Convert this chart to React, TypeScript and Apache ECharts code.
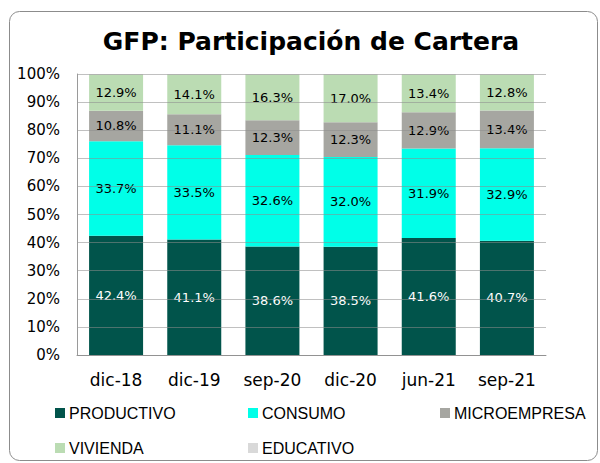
import React, { useEffect, useRef } from "react";
import * as echarts from "echarts";

const categories = ["dic-18", "dic-19", "sep-20", "dic-20", "jun-21", "sep-21"];
const productivo = [42.4, 41.1, 38.6, 38.5, 41.6, 40.7];
const consumo = [33.7, 33.5, 32.6, 32.0, 31.9, 32.9];
const microempresa = [10.8, 11.1, 12.3, 12.3, 12.9, 13.4];
const vivienda = [12.9, 14.1, 16.3, 17.0, 13.4, 12.8];
const educativo = [0.2, 0.2, 0.2, 0.2, 0.2, 0.2];
const yTicks = [0, 10, 20, 30, 40, 50, 60, 70, 80, 90, 100];
const seriesNames = ["PRODUCTIVO", "CONSUMO", "MICROEMPRESA", "VIVIENDA", "EDUCATIVO"];

const titleText = "GFP: Participación de Cartera";

export default function App() {
  const ref = useRef<HTMLDivElement>(null);
  useEffect(() => {
    document.body.style.margin = "0";
    const chart = echarts.init(ref.current!, null, { renderer: "svg" });
    const labelFont = "'DejaVu Sans', sans-serif";
    const legendFont = "'Liberation Sans', sans-serif";
    const mk = (name: string, data: number[], color: string, labelColor: string, showLabel: boolean) => ({
      name,
      type: "bar",
      stack: "total",
      barWidth: 54,
      data,
      itemStyle: { color },
      label: {
        show: showLabel,
        position: "inside",
        formatter: (p: any) => p.value.toFixed(1) + "%",
        color: labelColor,
        fontFamily: labelFont,
        fontSize: 13,
      },
    });
    const legendPos: [number, number][] = [
      [55, 405],
      [248, 405],
      [440, 405],
      [55, 440],
      [248, 440],
    ];
    const legends = seriesNames.map((n, i) => ({
      data: [n],
      left: legendPos[i][0],
      top: legendPos[i][1],
      padding: 0,
      itemWidth: 10,
      itemHeight: 10,
      itemGap: 4,
      icon: "rect",
      textStyle: { fontFamily: legendFont, fontSize: 16, color: "#000", padding: [0, 0, 0, -1] },
    }));
    chart.setOption({
      animation: false,
      title: {
        text: titleText,
        left: 306,
        top: 24,
        textAlign: "center",
        textStyle: { fontFamily: "'DejaVu Sans', sans-serif", fontWeight: "bold", fontSize: 25, color: "#000" },
      },
      graphic: [
        {
          type: "rect",
          shape: { x: 9.5, y: 11.5, width: 588, height: 449, r: 10 },
          style: { fill: "none", stroke: "#8c8c8c", lineWidth: 1 },
          silent: true,
          z: -10,
        },
      ],
      grid: { left: 77, right: 54, top: 74, bottom: 108, containLabel: false },
      xAxis: {
        type: "category",
        data: categories,
        axisLine: { show: true, lineStyle: { color: "#9a9a9a", width: 1 } },
        axisTick: { show: false },
        axisLabel: { color: "#000", fontFamily: labelFont, fontSize: 17, margin: 16, interval: 0 },
      },
      yAxis: {
        type: "value",
        min: yTicks[0],
        max: yTicks[yTicks.length - 1],
        interval: 10,
        z: 3,
        axisLine: { show: true, lineStyle: { color: "#9a9a9a", width: 1 } },
        axisTick: { show: false },
        splitLine: { show: true, lineStyle: { color: "rgba(140,140,140,0.55)", width: 1 } },
        axisLabel: { color: "#000", fontFamily: labelFont, fontSize: 15, margin: 17, formatter: (v: number) => v + "%" },
      },
      legend: legends,
      series: [
        mk(seriesNames[0], productivo, "#01544b", "#ffffff", true),
        mk(seriesNames[1], consumo, "#00ffe8", "#000000", true),
        mk(seriesNames[2], microempresa, "#a6a6a1", "#000000", true),
        mk(seriesNames[3], vivienda, "#bbdcb3", "#000000", true),
        mk(seriesNames[4], educativo, "#d9d9d9", "#000000", false),
      ],
    });
    return () => chart.dispose();
  }, []);
  return <div ref={ref} style={{ width: 600, height: 463 }} />;
}
